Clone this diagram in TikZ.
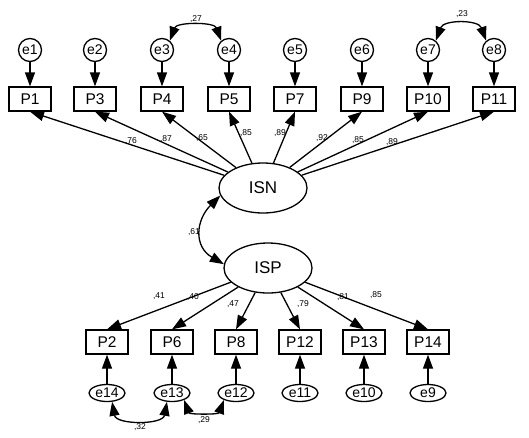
\documentclass[tikz,border=0pt]{standalone}
\usepackage{fontspec}
\setmainfont{Liberation Sans}
\usepackage{tikz}
\usetikzlibrary{positioning, shapes, arrows.meta}

\tikzset{
  obs/.style={draw, line width=1.3pt, minimum width=42pt, minimum height=24pt, inner sep=0pt, font=\fontsize{15.5}{15.5}\selectfont},
  err/.style={draw, circle, line width=1.3pt, minimum size=23pt, inner sep=0pt, font=\fontsize{14}{14}\selectfont},
  errb/.style={draw, ellipse, line width=1.3pt, minimum width=36pt, minimum height=17pt, inner sep=0pt, font=\fontsize{14}{14}\selectfont},
  lat/.style={draw, ellipse, line width=1.3pt, minimum width=88pt, minimum height=50pt, inner sep=0pt, font=\fontsize{17}{17}\selectfont},
  load/.style={line width=1.3pt, -{Triangle[length=14pt,width=10pt]}},
  cov/.style={line width=1.3pt, {Triangle[length=14pt,width=10pt]}-{Triangle[length=14pt,width=10pt]}},
  wt/.style={font=\fontsize{8.5}{8.5}\selectfont, inner sep=0pt}
}

\begin{document}
\begin{tikzpicture}[x=1pt, y=1pt]
\useasboundingbox (0,0) rectangle (529,-437);

% latent variables
\node[lat] (ISN) at (263,-188) {ISN};
\node[lat] (ISP) at (268,-268) {ISP};

% indicators of ISN
\node[obs] (P1) at (30,-99) {P1};
\node[obs] (P3) at (95,-99) {P3};
\node[obs] (P4) at (162,-99) {P4};
\node[obs] (P5) at (229,-99) {P5};
\node[obs] (P7) at (295,-99) {P7};
\node[obs] (P9) at (362,-99) {P9};
\node[obs] (P10) at (428,-99) {P10};
\node[obs] (P11) at (494,-99) {P11};

\node[err] (e1) at (30,-50) {e1};
\node[err] (e2) at (95,-50) {e2};
\node[err] (e3) at (162,-50) {e3};
\node[err] (e4) at (229,-50) {e4};
\node[err] (e5) at (295,-50) {e5};
\node[err] (e6) at (362,-50) {e6};
\node[err] (e7) at (428,-50) {e7};
\node[err] (e8) at (494,-50) {e8};

% indicators of ISP
\node[obs] (P2) at (107,-342) {P2};
\node[obs] (P6) at (172,-342) {P6};
\node[obs] (P8) at (236,-342) {P8};
\node[obs] (P12) at (300,-342) {P12};
\node[obs] (P13) at (364,-342) {P13};
\node[obs] (P14) at (428,-342) {P14};

\node[errb] (e14) at (107,-393) {e14};
\node[errb] (e13) at (172,-393) {e13};
\node[errb] (e12) at (236,-393) {e12};
\node[errb] (e11) at (300,-393) {e11};
\node[errb] (e10) at (364,-393) {e10};
\node[errb] (e9) at (428,-393) {e9};

% error terms
\draw[load] (e1) -- (P1);
\draw[load] (e2) -- (P3);
\draw[load] (e3) -- (P4);
\draw[load] (e4) -- (P5);
\draw[load] (e5) -- (P7);
\draw[load] (e6) -- (P9);
\draw[load] (e7) -- (P10);
\draw[load] (e8) -- (P11);
\draw[load] (e14) -- (P2);
\draw[load] (e13) -- (P6);
\draw[load] (e12) -- (P8);
\draw[load] (e11) -- (P12);
\draw[load] (e10) -- (P13);
\draw[load] (e9) -- (P14);

% loadings
\draw[load] (ISN) -- (P1.south);
\draw[load] (ISN) -- (P3.south);
\draw[load] (ISN) -- (P4.south);
\draw[load] (ISN) -- (P5.south);
\draw[load] (ISN) -- (P7.south);
\draw[load] (ISN) -- (P9.south);
\draw[load] (ISN) -- (P10.south);
\draw[load] (ISN) -- (P11.south);
\draw[load] (ISP) -- (P2.north);
\draw[load] (ISP) -- (P6.north);
\draw[load] (ISP) -- (P8.north);
\draw[load] (ISP) -- (P12.north);
\draw[load] (ISP) -- (P13.north);
\draw[load] (ISP) -- (P14.north);

\node[wt] (w1) at (131,-141) {,76};
\node[wt] (w3) at (166,-139) {,87};
\node[wt] (w4) at (202,-138) {,65};
\node[wt] (w5) at (246,-133) {,85};
\node[wt] (w7) at (280,-133) {,89};
\node[wt] (w9) at (322,-138) {,92};
\node[wt] (w10) at (358,-140) {,85};
\node[wt] (w11) at (392,-142) {,89};
\node[wt] (w2) at (159,-296) {,41};
\node[wt] (w6) at (193,-297) {,40};
\node[wt] (w8) at (233,-304) {,47};
\node[wt] (w12) at (303,-304) {,79};
\node[wt] (w13) at (343,-297) {,81};
\node[wt] (w14) at (376,-295) {,85};

% correlations
\draw[cov] (e3.50) to[out=70, in=110] (e4.130);
\draw[cov] (e7.50) to[out=70, in=110, looseness=1.15] (e8.130);
\draw[cov] (ISN.190) to[out=225, in=150, looseness=1.3] (ISP.175);
\draw[cov] (e14.-60) to[out=-80, in=-100, looseness=1.1] (e13.-120);
\draw[cov] (e13.-30) to[out=-70, in=-110] (e12.-150);

\node[wt] (c34) at (196,-19) {,27};
\node[wt] (c78) at (462,-14) {,23};
\node[wt] (cNP) at (194,-232) {,61};
\node[wt] (c1413) at (140,-427) {,32};
\node[wt] (c1312) at (204,-420) {,29};
\end{tikzpicture}
\end{document}
